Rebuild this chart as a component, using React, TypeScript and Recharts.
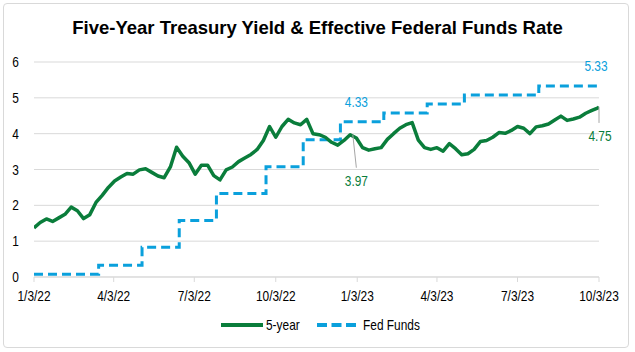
import { LineChart, Line, XAxis, YAxis, CartesianGrid, ReferenceDot, ReferenceLine } from 'recharts'

const FONT = "'Liberation Sans', Arial, sans-serif"
const NARROW = 0.85
const GREEN = '#0a7d3b'
const BLUE = '#0aa0dc'
const DAY = 86400000

// weekly 5-year treasury yield, starting 1/3/22
const yieldStart = '2022-01-03'
const yieldWeekly = [
  1.37, 1.52, 1.62, 1.55, 1.65, 1.75, 1.95, 1.85, 1.63, 1.74,
  2.08, 2.28, 2.5, 2.68, 2.79, 2.89, 2.87, 2.99, 3.02, 2.92,
  2.82, 2.77, 3.07, 3.62, 3.37, 3.19, 2.87, 3.12, 3.12, 2.83,
  2.71, 2.99, 3.07, 3.22, 3.32, 3.42, 3.56, 3.81, 4.2, 3.9,
  4.2, 4.4, 4.3, 4.25, 4.4, 4.0, 3.97, 3.9, 3.76, 3.68,
  3.81, 3.97, 3.88, 3.61, 3.54, 3.58, 3.61, 3.84, 4.0, 4.15,
  4.25, 4.31, 3.82, 3.61, 3.56, 3.61, 3.51, 3.72, 3.58, 3.41,
  3.44, 3.56, 3.78, 3.81, 3.9, 4.03, 4.01, 4.09, 4.2, 4.15,
  4.0, 4.19, 4.22, 4.27, 4.38, 4.49, 4.37, 4.41, 4.46, 4.57,
  4.65, 4.72,
]
const yieldEnd = { date: '2023-10-03', value: 4.75 }

// effective fed funds rate, step changes
const fedDates = [
  '2022-01-03', '2022-03-17', '2022-05-05', '2022-06-16', '2022-07-28', '2022-09-22',
  '2022-11-03', '2022-12-15', '2023-02-02', '2023-03-23', '2023-05-04', '2023-07-27', '2023-10-03',
]
const fedValues = [0.08, 0.33, 0.83, 1.58, 2.33, 3.08, 3.83, 4.33, 4.58, 4.83, 5.08, 5.33, 5.33]

const xTickLabels = ['1/3/22', '4/3/22', '7/3/22', '10/3/22', '1/3/23', '4/3/23', '7/3/23', '10/3/23']
const yTicks = [0, 1, 2, 3, 4, 5, 6]

// callouts
const lowCallout = { date: '2022-12-29', value: 3.97, labelDate: '2023-01-02', labelY: 3.05 }
const fedCallout = { date: '2023-01-02', value: 4.33 }
const fedEndCallout = { date: '2023-10-03', value: 5.33 }
const yieldEndLabelY = 4.3

const ts = (s: string) => {
  const [y, m, d] = s.split('-').map(Number)
  return Date.UTC(y, m - 1, d)
}
const labelTs = (s: string) => {
  const [m, d, y] = s.split('/').map(Number)
  return Date.UTC(2000 + y, m - 1, d)
}

const t0 = ts(yieldStart)
const yieldData = [
  ...yieldWeekly.map((v, i) => ({ t: t0 + i * 7 * DAY, v })),
  { t: ts(yieldEnd.date), v: yieldEnd.value },
]
const fedData = fedDates.map((d, i) => ({ t: ts(d), v: fedValues[i] }))
const xTicks = xTickLabels.map(labelTs)

const fmtDate = (t: number) => {
  const d = new Date(t)
  return `${d.getUTCMonth() + 1}/${d.getUTCDate()}/${String(d.getUTCFullYear()).slice(2)}`
}

const NarrowText = ({ x, y, text, anchor = 'middle', color = '#000', size = 14 }: any) => (
  <g transform={`translate(${x},${y}) scale(${NARROW},1)`}>
    <text x={0} y={0} textAnchor={anchor} fill={color} fontSize={size} fontFamily={FONT}>
      {text}
    </text>
  </g>
)

const XTick = (props: any) => (
  <NarrowText x={props.x} y={props.y + 17} text={fmtDate(props.payload.value)} />
)
const YTick = (props: any) => (
  <NarrowText x={props.x} y={props.y + 5} text={String(props.payload.value)} anchor="end" />
)

const Callout = (props: any) => {
  const vb = props.viewBox || {}
  const cx = (vb.x || 0) + (vb.width || 0) / 2 + (props.dx || 0)
  const cy = (vb.y || 0) + (vb.height || 0) / 2 + (props.dy || 0)
  return <NarrowText x={cx} y={cy} text={props.text} color={props.color} />
}

export default function App() {
  return (
    <div style={{ position: 'absolute', left: 0, top: 0, width: 635, height: 352, background: '#fff', fontFamily: FONT }}>
      <div style={{ position: 'absolute', left: 3, top: 3, width: 624, height: 343, border: '1px solid #d9d9d9', borderRadius: 4 }} />
      <div style={{ position: 'absolute', left: 0, top: 17, width: 635, textAlign: 'center', fontSize: 18.5, fontWeight: 'bold', color: '#000' }}>
        Five-Year Treasury Yield &amp; Effective Federal Funds Rate
      </div>
      <div style={{ position: 'absolute', left: 0, top: 0 }}>
        <LineChart width={635} height={352} margin={{ top: 62, right: 36, left: 0, bottom: 50 }}>
          <CartesianGrid vertical={false} stroke="#d9d9d9" />
          <XAxis
            dataKey="t"
            type="number"
            domain={[xTicks[0], xTicks[xTicks.length - 1]]}
            ticks={xTicks}
            allowDataOverflow
            height={25}
            stroke="#d9d9d9"
            tickSize={5}
            tick={XTick}
            interval={0}
          />
          <YAxis
            domain={[0, 6]}
            ticks={yTicks}
            width={34}
            axisLine={false}
            tickLine={false}
            tickSize={13}
            tick={YTick}
          />
          <Line
            data={fedData}
            dataKey="v"
            type="stepAfter"
            stroke={BLUE}
            strokeWidth={3}
            strokeDasharray="9 5"
            dot={false}
            isAnimationActive={false}
          />
          <Line
            data={yieldData}
            dataKey="v"
            type="linear"
            stroke={GREEN}
            strokeWidth={3.5}
            strokeLinejoin="round"
            dot={false}
            isAnimationActive={false}
          />
          <ReferenceLine
            segment={[{ x: ts(lowCallout.date), y: lowCallout.value }, { x: ts(lowCallout.labelDate), y: lowCallout.labelY }]}
            stroke="#a6a6a6"
            strokeWidth={1}
          />
          <ReferenceLine
            segment={[{ x: ts(yieldEnd.date), y: yieldEnd.value }, { x: ts(yieldEnd.date), y: yieldEndLabelY }]}
            stroke="#a6a6a6"
            strokeWidth={1}
            ifOverflow="visible"
          />
          <ReferenceDot
            x={ts(lowCallout.labelDate)}
            y={lowCallout.labelY}
            r={0}
            ifOverflow="visible"
            label={<Callout text={lowCallout.value.toFixed(2)} color={GREEN} dy={18} />}
          />
          <ReferenceDot
            x={ts(yieldEnd.date)}
            y={yieldEndLabelY}
            r={0}
            ifOverflow="visible"
            label={<Callout text={yieldEnd.value.toFixed(2)} color={GREEN} dy={18} dx={1} />}
          />
          <ReferenceDot
            x={ts(fedCallout.date)}
            y={fedCallout.value}
            r={0}
            ifOverflow="visible"
            label={<Callout text={fedCallout.value.toFixed(2)} color={BLUE} dy={-15} />}
          />
          <ReferenceDot
            x={ts(fedEndCallout.date)}
            y={fedEndCallout.value}
            r={0}
            ifOverflow="visible"
            label={<Callout text={fedEndCallout.value.toFixed(2)} color={BLUE} dy={-15} dx={-3} />}
          />
        </LineChart>
      </div>
      <svg width={635} height={352} style={{ position: 'absolute', left: 0, top: 0, pointerEvents: 'none' }}>
        <line x1={221} y1={325} x2={263} y2={325} stroke={GREEN} strokeWidth={4} />
        <NarrowText x={266} y={330} text="5-year" anchor="start" />
        <line x1={317} y1={325} x2={356} y2={325} stroke={BLUE} strokeWidth={4} strokeDasharray="10 4.5" />
        <NarrowText x={363} y={330} text="Fed Funds" anchor="start" />
      </svg>
    </div>
  )
}
